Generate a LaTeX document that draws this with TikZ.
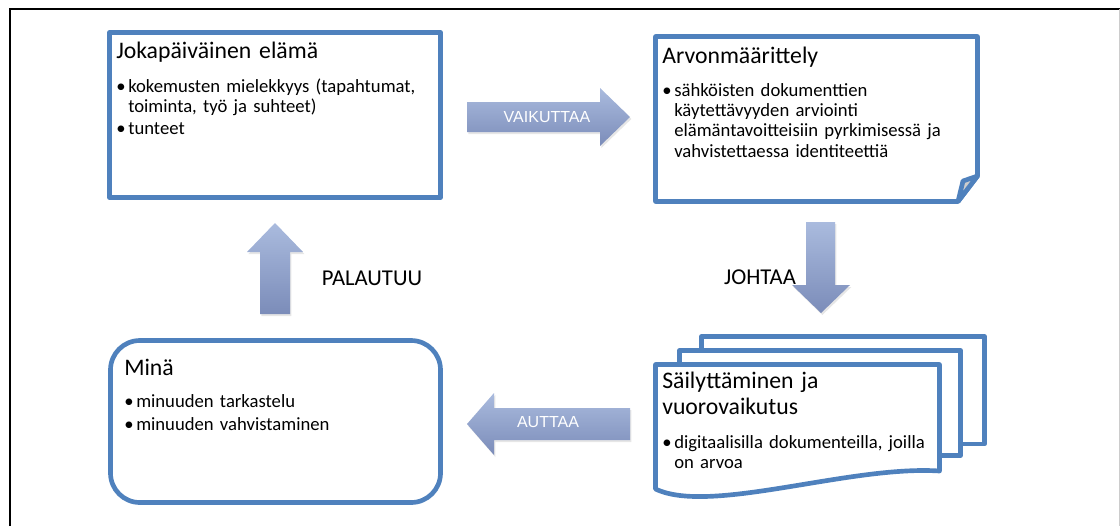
\documentclass[tikz,border=0pt]{standalone}
\usepackage{fontspec}
\setmainfont{Carlito}
\newfontfamily\labelfont{Liberation Sans}
\usetikzlibrary{shadows}
\definecolor{boxBlue}{RGB}{79,129,189}
\definecolor{arrowTop}{RGB}{170,187,222}
\definecolor{arrowBottom}{RGB}{123,140,185}
\definecolor{foldGray}{RGB}{205,205,205}
\newcommand{\bul}{\makebox[9pt][l]{\textbullet}}
\newcommand{\cont}{\hspace*{9pt}}

\begin{document}
\begin{tikzpicture}[x=0.75pt,y=-0.75pt,
    panel/.style={draw=boxBlue, line width=3.5pt, line join=round, fill=white},
    heading/.style={anchor=base west, inner sep=0pt, text width=230pt, align=left,
      font=\fontsize{17.8}{20.2}\selectfont},
    items/.style={anchor=base west, inner sep=0pt, text width=240pt, align=left,
      font=\fontsize{14}{15.3}\selectfont},
    blockarrow/.style={top color=arrowTop, bottom color=arrowBottom,
      drop shadow={opacity=0.2, shadow xshift=1pt, shadow yshift=-1.5pt}},
    arrowlabel/.style={inner sep=0pt, text=white, font=\labelfont\fontsize{12}{14}\selectfont},
    sidelabel/.style={inner sep=0pt, font=\fontsize{17}{20}\selectfont}]
  \useasboundingbox (0,0) rectangle (1120,526);

  % outer frame
  \draw[line width=1.5pt] (10,526) -- (10,9) -- (1120,9);
  \draw[gray!40, line width=0.75pt] (1119.5,9) -- (1119.5,526);

  % Jokapaivainen elama
  \node[panel, inner sep=0pt, minimum width=248.25pt, minimum height=123.75pt] (daily) at (275,115) {};
  \node[heading] (dailyhead) at (116,58) {Jokapäiväinen elämä};
  \node[items] (dailyitems) at (116,92) {\bul kokemusten mielekkyys (tapahtumat,\\
    \cont toiminta, työ ja suhteet)\\[1.5pt]
    \bul tunteet};

  % Arvonmaarittely, folded corner
  \draw[panel] (655.5,36.5) -- (977.5,36.5) -- (977.5,176) -- (958,201.5) -- (655.5,201.5) -- cycle;
  \draw[panel, fill=foldGray] (958,201.5) -- (963,181) -- (977.5,176) -- cycle;
  \node[heading] (valuehead) at (662,63) {Arvonmäärittely};
  \node[items] (valueitems) at (662,96) {\bul sähköisten dokumenttien\\
    \cont käytettävyyden arviointi\\
    \cont elämäntavoitteisiin pyrkimisessä ja\\
    \cont vahvistettaessa identiteettiä};

  % Sailyttaminen, stacked pages
  \draw[panel] (701.5,336.5) rectangle (984.5,444);
  \draw[panel] (679.5,350.5) rectangle (960.5,455.5);
  \draw[panel] (655.5,364.5) -- (939.5,364.5) -- (939.5,471)
    .. controls (850,465) and (710,515) .. (655.5,489) -- cycle;
  \node[heading] (keephead) at (662,388) {Säilyttäminen ja\\vuorovaikutus};
  \node[items] (keepitems) at (662,448) {\bul digitaalisilla dokumenteilla, joilla\\
    \cont on arvoa};

  % Mina
  \node[panel, rounded corners=22pt, inner sep=0pt, minimum width=247.5pt, minimum height=121.5pt] (self) at (275.5,421.5) {};
  \node[heading] (selfhead) at (124,375) {Minä};
  \node[items] (selfitems) at (124,407) {\bul minuuden tarkastelu\\[2.5pt]
    \bul minuuden vahvistaminen};

  % block arrows
  \shade[blockarrow] (467,102) -- (600,102) -- (600,88) -- (630,117) -- (600,146) -- (600,132) -- (467,132) -- cycle;
  \node[arrowlabel] (affects) at (547,117) {VAIKUTTAA};

  \shade[blockarrow] (806,222) -- (835,222) -- (835,285) -- (850,285) -- (821,313) -- (792,285) -- (806,285) -- cycle;
  \node[sidelabel] (leads) at (760,277) {JOHTAA};

  \shade[blockarrow] (467,424) -- (494,393) -- (494,408) -- (630,408) -- (630,440) -- (494,440) -- (494,455) -- cycle;
  \node[arrowlabel] (helps) at (548,422) {AUTTAA};

  \shade[blockarrow] (275,223) -- (303,252) -- (290,252) -- (290,314) -- (260,314) -- (260,252) -- (247,252) -- cycle;
  \node[sidelabel] (returns) at (372,278) {PALAUTUU};
\end{tikzpicture}
\end{document}
